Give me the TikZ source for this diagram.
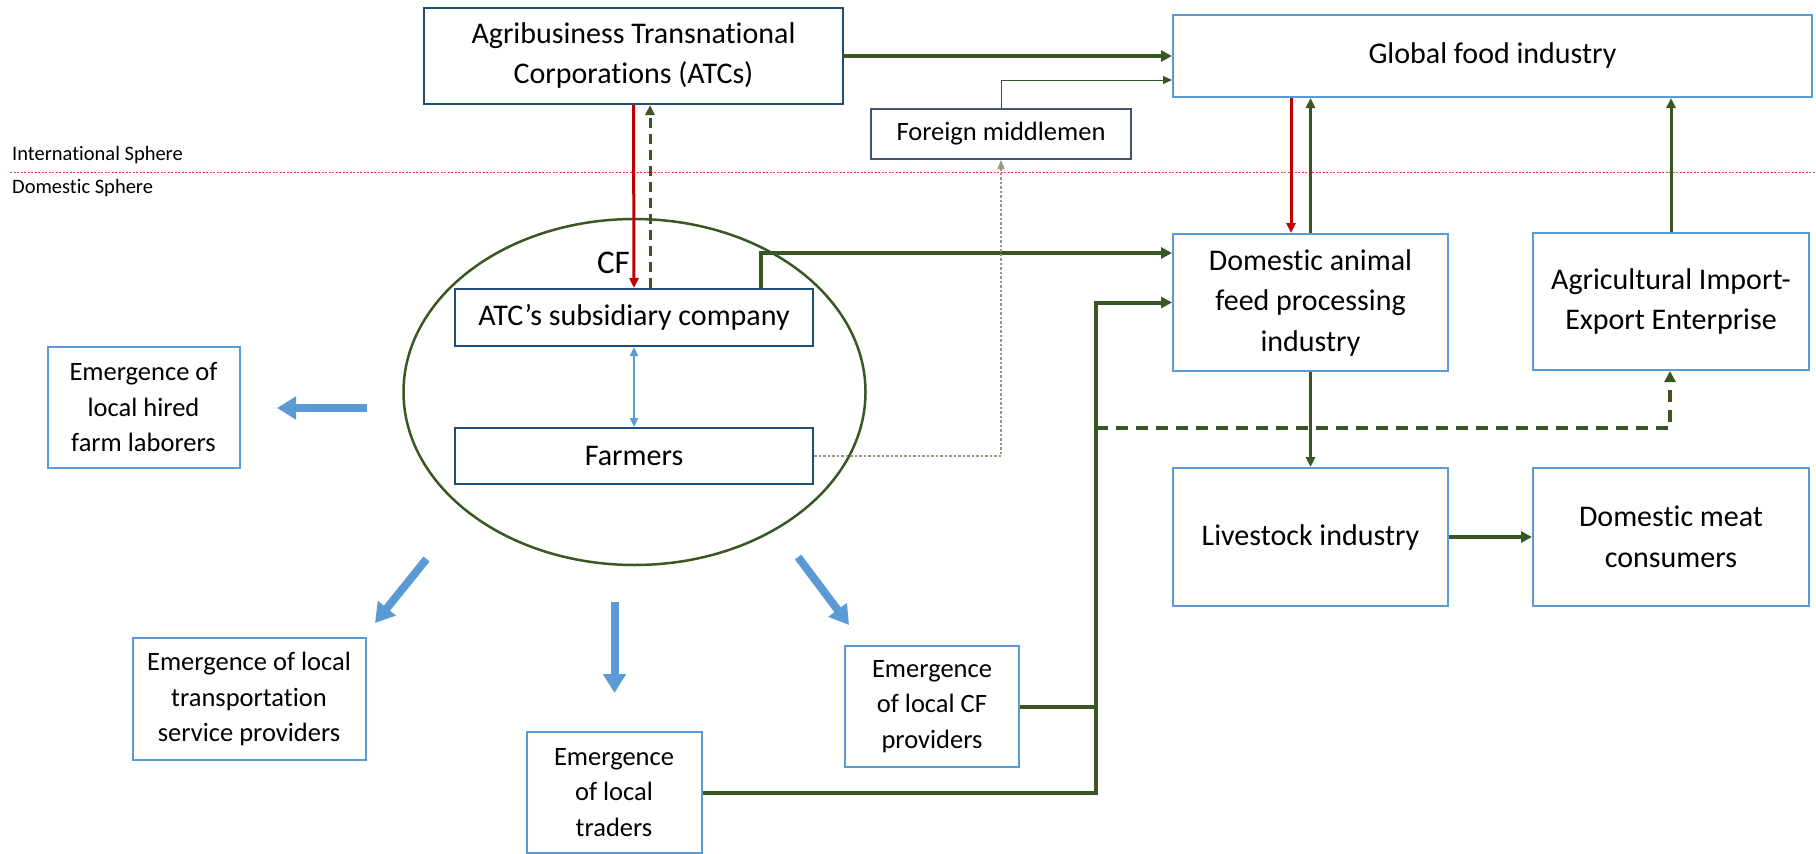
\documentclass[tikz,border=0pt]{standalone}
\usepackage{fontspec}
\setmainfont{Carlito}[Ligatures=NoCommon,RawFeature={-liga;-clig;-dlig;-calt;-hlig}]
\usetikzlibrary{arrows.meta,calc}
\definecolor{navy}{HTML}{1F4E79}
\definecolor{slate}{HTML}{44546A}
\definecolor{skyb}{HTML}{5B9BD5}
\definecolor{olive}{HTML}{385723}
\definecolor{darkred}{HTML}{C00000}
\definecolor{paleolive}{HTML}{8E9C7E}
\definecolor{sphereline}{HTML}{E04040}
\tikzset{
  mainbox/.style={draw=navy,line width=2pt,fill=white,align=center,font=\fontsize{30}{40}\selectfont,inner sep=0pt},
  lightbox/.style={draw=skyb,line width=2pt,fill=white,align=center,font=\fontsize{30}{40.5}\selectfont,inner sep=0pt},
  emergebox/.style={lightbox,font=\fontsize{26.5}{35.5}\selectfont},
  thickflow/.style={draw=olive,line width=4pt,-{Triangle[length=11pt,width=11pt]}},
  thinflow/.style={draw=olive,line width=3pt,-{Triangle[length=10pt,width=9pt]}},
  redflow/.style={draw=darkred,line width=3pt,-{Triangle[length=10pt,width=9pt]}},
  fatarrow/.style={draw=skyb,line width=8pt,-{Triangle[length=19pt,width=22pt]}},
  spheretext/.style={anchor=west,font=\fontsize{20.5}{24}\selectfont,inner sep=0pt}
}
\begin{document}
\begin{tikzpicture}[x=1pt,y=-1pt]
\useasboundingbox (0,0) rectangle (1816,854);

% spheres
\node[spheretext] (intl) at (12,155) {International Sphere};
\node[spheretext] (dom) at (12,188) {Domestic Sphere};
\draw[sphereline,line width=1pt,dash pattern=on 2pt off 1.5pt] (10,172.5) -- (1816,172.5);

% contract farming ellipse
\draw[olive,line width=2.5pt] (634.5,392) ellipse [x radius=231,y radius=173];
\node[font=\fontsize{33}{36}\selectfont,anchor=east,inner sep=0pt] (cf) at (630,263) {CF};

% boxes
\node[mainbox,minimum width=419pt,minimum height=96pt] (atc) at (633.5,56) {Agribusiness Transnational\\Corporations (ATCs)};
\node[lightbox,minimum width=639pt,minimum height=82pt] (global) at (1492.5,56) {Global food industry};
\node[mainbox,draw=slate,minimum width=260pt,minimum height=50pt,font=\fontsize{26.5}{30}\selectfont] (foreign) at (1001,134) {Foreign middlemen};
\node[mainbox,minimum width=358pt,minimum height=57pt] (sub) at (634,317.5) {ATC’s subsidiary company};
\node[mainbox,minimum width=358pt,minimum height=56pt] (farmers) at (634,456) {Farmers};
\node[lightbox,minimum width=275pt,minimum height=137pt] (feed) at (1310.5,302.5) {Domestic animal\\feed processing\\industry};
\node[lightbox,minimum width=276pt,minimum height=137pt] (agri) at (1671,301.5) {Agricultural Import-\\Export Enterprise};
\node[lightbox,minimum width=275pt,minimum height=138pt] (livestock) at (1310.5,537) {Livestock industry};
\node[lightbox,minimum width=276pt,minimum height=138pt] (meat) at (1671,537) {Domestic meat\\consumers};
\node[emergebox,minimum width=192pt,minimum height=121pt] (hired) at (143.5,407.5) {Emergence of\\local hired\\farm laborers};
\node[emergebox,minimum width=233pt,minimum height=122pt] (transport) at (249,699) {Emergence of local\\transportation\\service providers};
\node[emergebox,minimum width=175pt,minimum height=121pt] (traders) at (614,792.5) {Emergence\\of local\\traders};
\node[emergebox,minimum width=174pt,minimum height=121pt] (cfprov) at (932,706.5) {Emergence\\of local CF\\providers};

% international flows
\draw[thickflow] (atc.east) -- (global.west);
\draw[olive,line width=1pt,-{Triangle[length=9pt,width=8pt]}] (foreign.north) |- ($(global.west)+(0,24)$);
\draw[redflow] (atc.south) -- (sub.north);
\draw[olive,line width=3pt,dash pattern=on 10pt off 6pt,-{Triangle[length=10pt,width=9pt]}] ($(sub.north)+(16,0)$) -- ($(atc.south)+(16.5,0)$);
\draw[thickflow] ($(sub.north)+(126.5,0)$) |- ($(feed.west)+(0,-49.5)$);
\draw[skyb,line width=2.5pt,{Triangle[length=9pt,width=8pt]}-{Triangle[length=9pt,width=8pt]}] (sub.south) -- (farmers.north);
\draw[paleolive,line width=1.2pt,dash pattern=on 2.5pt off 2pt,-{Triangle[length=9pt,width=7pt]}] (farmers.east) -| (foreign.south);

% global food industry links
\coordinate (redx) at ($(feed.north)+(-19.5,0)$);
\draw[redflow] (redx |- global.south) -- (redx);
\draw[thinflow] (feed.north) -- (feed.north |- global.south);
\draw[thinflow] (agri.north) -- (agri.north |- global.south);

% domestic chain
\draw[thinflow] (feed.south) -- (livestock.north);
\draw[thickflow] (livestock.east) -- (meat.west);

% local providers feeding the domestic chain
\coordinate (trunk) at ($(feed.west)+(-76,0)$);
\coordinate (branch) at (trunk |- 0,428);
\draw[thickflow] (traders.east) -| (trunk) -- (feed.west);
\draw[olive,line width=4pt] (cfprov.east) -- (cfprov.east -| trunk);
\draw[olive,line width=4pt,dash pattern=on 12pt off 8pt,-{Triangle[length=11pt,width=11pt]}] (branch) -| ($(agri.south)+(-1,0)$);

% emergence arrows
\coordinate (hA) at (367,408);   \coordinate (hB) at (277,408);
\coordinate (tA) at (426.5,559); \coordinate (tB) at (375,623);
\coordinate (dA) at (614.5,602); \coordinate (dB) at (614.5,693);
\coordinate (cA) at (798,557);   \coordinate (cB) at (849,625);
\draw[fatarrow] (hA) -- (hB);
\draw[fatarrow] (tA) -- (tB);
\draw[fatarrow] (dA) -- (dB);
\draw[fatarrow] (cA) -- (cB);
\end{tikzpicture}
\end{document}
